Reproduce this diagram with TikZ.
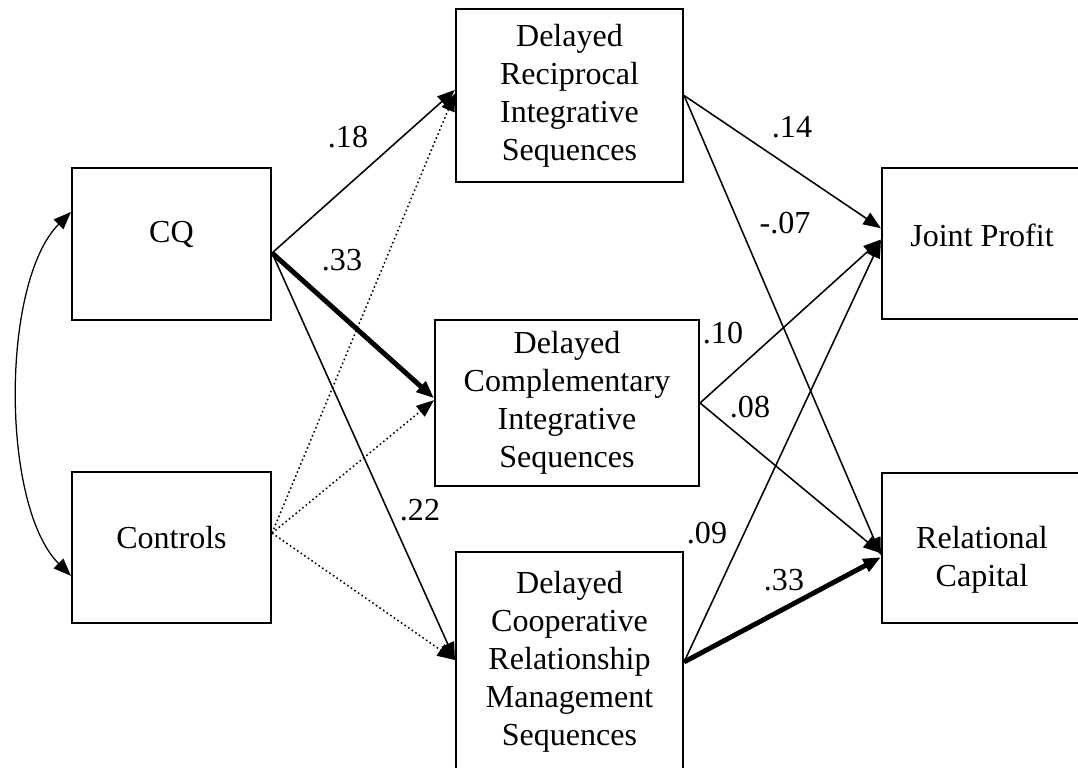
\documentclass[tikz,border=0pt]{standalone}
\usepackage{fontspec}
\setmainfont{Liberation Serif}
\usetikzlibrary{arrows.meta}

\begin{document}
\begin{tikzpicture}[font=\fontsize{22.8}{27}\selectfont,
		>={Triangle[length=4.4mm,width=3.4mm]},
		box/.style={draw, line width=1.5pt, inner sep=0pt, align=center},
		coef/.style={inner sep=0pt},
		effect/.style={->, line width=1.1pt},
		strong/.style={->, line width=3.5pt},
		control/.style={->, line width=1.1pt, dotted}]
		\useasboundingbox (0,0) rectangle (26.95,19.2);
		\clip (0,0) rectangle (26.95,19.2);
		% boxes
		\node [box, minimum width=4.975cm, minimum height=3.8cm] (cq) at (4.2875,13.1) {};
		\node (cqtext) at ([yshift=0.23cm]cq.center) {CQ};
		\node [box, minimum width=4.975cm, minimum height=3.775cm] (controls) at (4.2875,5.5125) {};
		\node (controlstext) at ([yshift=0.24cm]controls.center) {Controls};
		\node [box, minimum width=5.675cm, minimum height=4.325cm] (recip) at (14.2375,16.8125) {Delayed\\Reciprocal\\Integrative\\Sequences};
		\node [box, minimum width=6.6cm, minimum height=4.15cm] (compl) at (14.175,9.125) {Delayed\\Complementary\\Integrative\\Sequences};
		\node [box, minimum width=5.675cm, minimum height=5.5cm] (coop) at (14.2375,2.65) {Delayed\\Cooperative\\Relationship\\Management\\Sequences};
		\node [box, minimum width=5cm, minimum height=3.775cm] (joint) at (24.55,13.1125) {};
		\node (jointtext) at ([yshift=0.21cm]joint.center) {Joint Profit};
		\node [box, minimum width=5cm, minimum height=3.75cm] (relcap) at (24.55,5.5) {};
		\node [align=center] (relcaptext) at ([yshift=-0.29cm]relcap.center) {Relational\\Capital};
		% correlation
		\draw [<->, line width=0.9pt] ([yshift=0.8cm]cq.west) to [out=225, in=135, looseness=0.7] ([yshift=-0.71cm]controls.west);
		% paths
		\draw [effect] ([yshift=-0.225cm]cq.east) -- ([yshift=0.14cm]recip.west);
		\draw [strong] ([yshift=-0.225cm]cq.east) -- ([yshift=0.12cm]compl.west);
		\draw [effect] ([yshift=-0.225cm]cq.east) -- ([yshift=0.05cm]coop.west);
		\draw [control] ([yshift=0.36cm]controls.east) -- ([yshift=0.05cm]recip.west);
		\draw [control] ([yshift=0.36cm]controls.east) -- ([yshift=0.07cm]compl.west);
		\draw [control] ([yshift=0.36cm]controls.east) -- ([yshift=0.05cm]coop.west);
		\draw [effect] (recip.east) -- ([yshift=0.38cm]joint.west);
		\draw [effect] (recip.east) -- ([yshift=-0.18cm]relcap.west);
		\draw [effect] (compl.east) -- ([yshift=0.1cm]joint.west);
		\draw [effect] (compl.east) -- ([yshift=-0.13cm]relcap.west);
		\draw [effect] (coop.east) -- ([yshift=0.08cm]joint.west);
		\draw [strong] (coop.east) -- ([yshift=-0.23cm]relcap.west);
		% coefficients
		\node [coef] (c18) at (8.7,15.775) {.18};
		\node [coef] (c33a) at (8.55,12.7) {.33};
		\node [coef] (c22) at (10.5,6.45) {.22};
		\node [coef] (c14) at (19.8,16.025) {.14};
		\node [coef] (c07) at (19.625,13.625) {-.07};
		\node [coef] (c10) at (18.075,10.875) {.10};
		\node [coef] (c08) at (18.75,9.025) {.08};
		\node [coef] (c09) at (17.675,5.875) {.09};
		\node [coef] (c33b) at (19.6,4.7) {.33};
	\end{tikzpicture}
\end{document}
